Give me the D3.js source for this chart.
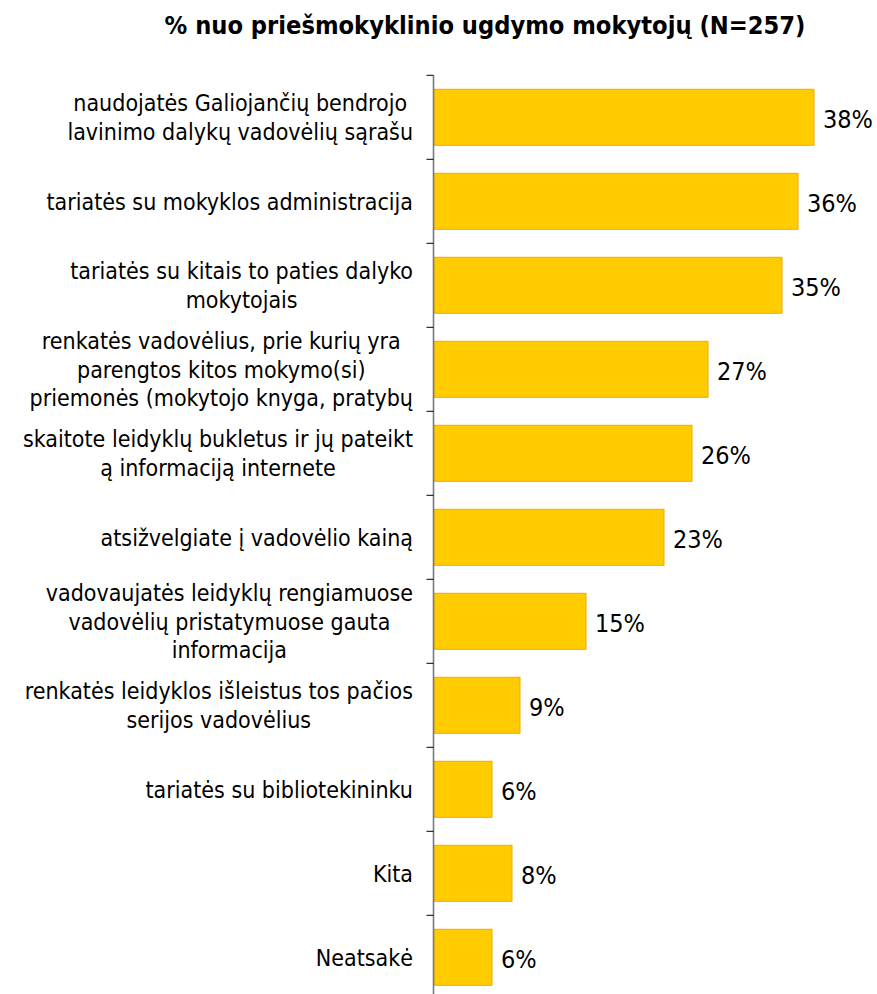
<!DOCTYPE html>
<html>
<head>
<meta charset="utf-8">
<script src="https://cdn.jsdelivr.net/npm/d3@7"></script>
<style>
  html, body { margin: 0; padding: 0; background: #fff; }
  svg { display: block; }
  text { font-family: "DejaVu Sans Condensed", "DejaVu Sans", sans-serif; fill: #000; }
</style>
</head>
<body>
<svg id="chart" width="877" height="994"></svg>
<script>
const title = "% nuo priešmokyklinio ugdymo mokytojų (N=257)";

const categories = [
  ["naudojatės Galiojančių bendrojo", "lavinimo dalykų vadovėlių sąrašu"],
  ["tariatės su mokyklos administracija"],
  ["tariatės su kitais to paties dalyko", "mokytojais"],
  ["renkatės vadovėlius, prie kurių yra", "parengtos kitos mokymo(si)", "priemonės (mokytojo knyga, pratybų"],
  ["skaitote leidyklų bukletus ir jų pateikt", "ą informaciją internete"],
  ["atsižvelgiate į vadovėlio kainą"],
  ["vadovaujatės leidyklų rengiamuose", "vadovėlių pristatymuose gauta", "informacija"],
  ["renkatės leidyklos išleistus tos pačios", "serijos vadovėlius"],
  ["tariatės su bibliotekininku"],
  ["Kita"],
  ["Neatsakė"]
];
const values = [38.0, 36.4, 34.8, 27.4, 25.8, 23.0, 15.2, 8.6, 5.8, 7.8, 5.8];
const valueLabels = ["38%", "36%", "35%", "27%", "26%", "23%", "15%", "9%", "6%", "8%", "6%"];

const svg = d3.select("#chart");
const axisX = 433.5;
const fontSize = 23;
const lineH = 28.5;

const x = d3.scaleLinear().domain([0, 40]).range([434, 834]);
const y = d3.scaleBand()
  .domain(d3.range(categories.length))
  .range([75.3, 999.3])
  .paddingInner(1/3)
  .paddingOuter(1/6);

// title
svg.append("text")
  .attr("x", 485).attr("y", 34)
  .attr("text-anchor", "middle")
  .style("font-size", "25.2px")
  .style("font-weight", "bold")
  .text(title);

// bars
svg.append("g").selectAll("rect")
  .data(values)
  .join("rect")
  .attr("x", x(0))
  .attr("y", (d, i) => y(i))
  .attr("width", d => x(d) - x(0))
  .attr("height", y.bandwidth())
  .attr("fill", "#FFCC00")
  .attr("stroke", "#F5A800")
  .attr("stroke-width", 1);

// value labels
svg.append("g").selectAll("text")
  .data(values)
  .join("text")
  .attr("x", d => x(d) + 9)
  .attr("y", (d, i) => y(i) + y.bandwidth() / 2)
  .attr("dy", "0.42em")
  .style("font-size", "25px")
  .text((d, i) => valueLabels[i]);

// axis line + ticks
const step = y.step();
const bandStart = i => y(i) - step * y.paddingInner() / 2;
svg.append("line")
  .attr("x1", axisX).attr("x2", axisX)
  .attr("y1", bandStart(0)).attr("y2", bandStart(categories.length - 1) + step)
  .attr("stroke", "#7a7a7a").attr("stroke-width", 1.6);
svg.append("g").selectAll("line")
  .data(d3.range(categories.length + 1))
  .join("line")
  .attr("x1", axisX - 7).attr("x2", axisX)
  .attr("y1", i => i < categories.length ? bandStart(i) : bandStart(i - 1) + step)
  .attr("y2", i => i < categories.length ? bandStart(i) : bandStart(i - 1) + step)
  .attr("stroke", "#000").attr("stroke-width", 1);

// category labels: lines centered among themselves, block right-aligned
const labelRight = 413;
const catG = svg.append("g");
categories.forEach((lines, i) => {
  const g = catG.append("g");
  const cy = y(i) + y.bandwidth() / 2;
  const texts = lines.map((ln, k) =>
    g.append("text")
      .attr("y", cy + (k - (lines.length - 1) / 2) * lineH)
      .attr("dy", "0.36em")
      .attr("text-anchor", "middle")
      .style("font-size", fontSize + "px")
      .text(ln)
  );
  const maxW = d3.max(texts, t => t.node().getComputedTextLength());
  texts.forEach(t => t.attr("x", labelRight - maxW / 2));
});
</script>
</body>
</html>
